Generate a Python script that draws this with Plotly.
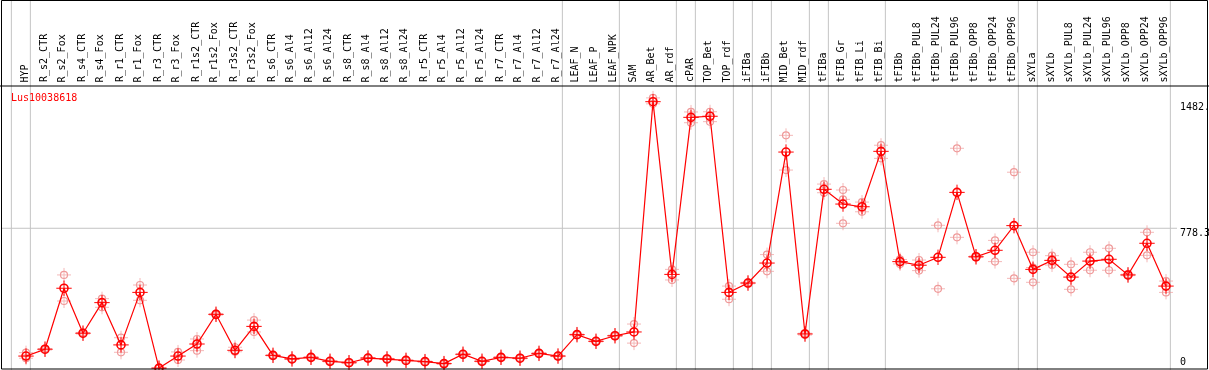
import plotly.graph_objects as go

categories = ["HYP", "R_s2_CTR", "R_s2_Fox", "R_s4_CTR", "R_s4_Fox", "R_r1_CTR", "R_r1_Fox",
              "R_r3_CTR", "R_r3_Fox", "R_r1s2_CTR", "R_r1s2_Fox", "R_r3s2_CTR", "R_r3s2_Fox",
              "R_s6_CTR", "R_s6_Al4", "R_s6_Al12", "R_s6_Al24", "R_s8_CTR", "R_s8_Al4", "R_s8_Al12",
              "R_s8_Al24", "R_r5_CTR", "R_r5_Al4", "R_r5_Al12", "R_r5_Al24", "R_r7_CTR", "R_r7_Al4",
              "R_r7_Al12", "R_r7_Al24", "LEAF_N", "LEAF_P", "LEAF_NPK", "SAM", "AR_Bet", "AR_rdf",
              "cPAR", "TOP_Bet", "TOP_rdf", "iFIBa", "iFIBb", "MID_Bet", "MID_rdf", "tFIBa",
              "tFIB_Gr", "tFIB_Li", "tFIB_Bi", "tFIBb", "tFIBb_PUL8", "tFIBb_PUL24", "tFIBb_PUL96",
              "tFIBb_OPP8", "tFIBb_OPP24", "tFIBb_OPP96", "sXYLa", "sXYLb", "sXYLb_PUL8",
              "sXYLb_PUL24", "sXYLb_PUL96", "sXYLb_OPP8", "sXYLb_OPP24", "sXYLb_OPP96"]

mean_values = [68, 106, 445, 195, 365, 130, 422, 1, 68, 135, 300, 100, 233,
               72, 52, 61, 39, 31, 57, 52, 44, 37, 26, 78, 39, 61, 56, 83, 68,
               187, 150, 181, 202, 1482, 522, 1395, 1401, 422, 474, 585, 1202, 191,
               995, 913, 898, 1206, 593, 573, 617, 978, 620, 656, 793,
               550, 600, 507, 596, 606, 519, 695, 457]

rep_a = [87, 110, 519, 199, 387, 170, 463, 2, 91, 163, 304, 117, 268,
         75, 55, 64, 42, 34, 60, 55, 47, 40, 29, 81, 42, 64, 59, 86, 71,
         190, 153, 184, 246, 1503, 550, 1425, 1426, 457, 478, 632, 1295, 195,
         1024, 991, 924, 1240, 605, 602, 795, 1223, 624, 711, 1090,
         645, 626, 578, 645, 667, 523, 756, 485]

rep_b = [56, 102, 374, 191, 339, 89, 378, 0, 46, 98, 296, 92, 202,
         69, 49, 58, 36, 28, 54, 49, 41, 34, 23, 75, 36, 58, 53, 80, 65,
         184, 147, 178, 140, 1470, 491, 1365, 1371, 384, 470, 539, 1102, 185,
         976, 806, 870, 1167, 580, 543, 442, 728, 616, 593, 500,
         478, 574, 439, 545, 545, 515, 628, 422]

rep_c = [None] * 43 + [939] + [None] * 9 + [560] + [None] * 7

# separators drawn after these category indices (-1 = before the first)
group_ends = [-1, 0, 28, 31, 34, 35, 37, 38, 39, 41, 42, 45, 52, 53, 60]

axis_max_label = "1482."
axis_mid_value = 778.3
axis_mid_label = "778.3"
axis_min_label = "0"
gene_name = "Lus10038618"

W, H = 1209, 370
FONT = "DejaVu Sans Mono"
RED = "#ff0000"
PINK = "#ef9a9a"
GRAY = "#c4c4c4"

xs = list(range(len(categories)))

# pixel-to-data mapping (plot area = whole figure)
px0, pstep = 26.0, 19.0
x_range = [-px0 / pstep, (W - px0) / pstep]
y_zero_px, y_scale = 368.3, 0.1799
y_range = [-(H - y_zero_px) / y_scale, y_zero_px / y_scale]

def ppx(px):
    return px / W

def ppy(py):
    return 1 - py / H

fig = go.Figure()

reps_x, reps_y = [], []
for arr in (rep_a, rep_b, rep_c):
    for i, v in enumerate(arr):
        if v is not None:
            reps_x.append(i)
            reps_y.append(v)

fig.add_trace(go.Scatter(x=reps_x, y=reps_y, mode="markers",
                         marker=dict(symbol="cross-thin-open", size=10, color=PINK,
                                     line=dict(color=PINK, width=1)),
                         hoverinfo="skip", showlegend=False, opacity=0.7))
fig.add_trace(go.Scatter(x=reps_x, y=reps_y, mode="markers",
                         marker=dict(symbol="circle", size=7, color="rgba(255,255,255,0)",
                                     line=dict(color=PINK, width=1.2)),
                         hoverinfo="skip", showlegend=False))
fig.add_trace(go.Scatter(x=xs, y=mean_values, mode="lines",
                         line=dict(color=RED, width=1.2),
                         hoverinfo="skip", showlegend=False))
fig.add_trace(go.Scatter(x=xs, y=mean_values, mode="markers",
                         marker=dict(symbol="cross-thin-open", size=11, color=RED,
                                     line=dict(color=RED, width=1)),
                         hoverinfo="skip", showlegend=False))
fig.add_trace(go.Scatter(x=xs, y=mean_values, mode="markers",
                         marker=dict(symbol="circle", size=8, color="rgba(255,255,255,0)",
                                     line=dict(color=RED, width=1.6)),
                         showlegend=False,
                         text=categories, hovertemplate="%{text}: %{y}<extra></extra>"))

shapes = []
for g in group_ends:
    xv = g + 0.23
    shapes.append(dict(type="line", xref="x", yref="paper", x0=xv, x1=xv, y0=0, y1=1,
                       line=dict(color=GRAY, width=1), layer="below"))
shapes.append(dict(type="line", xref="paper", yref="y", x0=ppx(2), x1=ppx(1177),
                   y0=axis_mid_value, y1=axis_mid_value,
                   line=dict(color=GRAY, width=1), layer="below"))
shapes.append(dict(type="line", xref="paper", yref="paper", x0=0, x1=1,
                   y0=ppy(86), y1=ppy(86), line=dict(color="black", width=1)))
shapes.append(dict(type="rect", xref="paper", yref="paper", x0=ppx(1.5), x1=ppx(1207.5),
                   y0=ppy(369), y1=ppy(0.5), line=dict(color="black", width=1)))

annotations = []
for i, c in enumerate(categories):
    annotations.append(dict(x=i - 0.08, y=ppy(84), xref="x", yref="paper", text=c,
                            textangle=-90, showarrow=False, xanchor="center", yanchor="bottom",
                            font=dict(family=FONT, size=10, color="black")))

annotations.append(dict(x=ppx(9), y=ppy(97), xref="paper", yref="paper", text=gene_name,
                        showarrow=False, xanchor="left", yanchor="middle",
                        font=dict(family=FONT, size=10, color=RED)))
for lbl, ypx in ((axis_max_label, 106.5), (axis_mid_label, 232.3), (axis_min_label, 361.7)):
    annotations.append(dict(x=ppx(1178), y=ppy(ypx), xref="paper", yref="paper", text=lbl,
                            showarrow=False, xanchor="left", yanchor="middle",
                            font=dict(family=FONT, size=10, color="black")))

fig.update_layout(
    width=W, height=H, margin=dict(l=0, r=0, t=0, b=0),
    paper_bgcolor="white", plot_bgcolor="white",
    xaxis=dict(range=x_range, visible=False, showgrid=False, zeroline=False, fixedrange=True),
    yaxis=dict(range=y_range, visible=False, showgrid=False, zeroline=False, fixedrange=True),
    shapes=shapes, annotations=annotations, showlegend=False,
)

fig.write_html("out.html", config={"displayModeBar": False},
               post_script="document.body.style.margin='0';document.body.style.overflow='hidden';")
